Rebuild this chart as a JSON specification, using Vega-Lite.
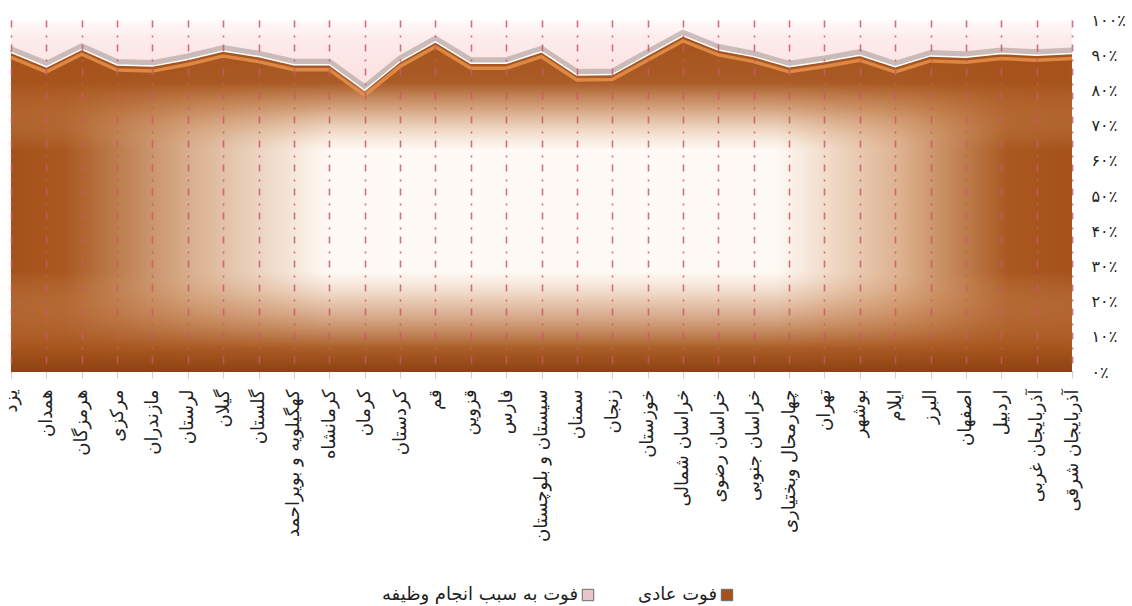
{
  "$schema": "https://vega.github.io/schema/vega-lite/v6.json",
  "width": 1061,
  "height": 352,
  "autosize": {"type": "none"},
  "padding": {"left": 11, "top": 20, "right": 60, "bottom": 234},
  "background": "white",
  "config": {
    "font": "DejaVu Sans",
    "view": {"stroke": null},
    "axisY": {
      "orient": "right",
      "grid": false,
      "domain": false,
      "ticks": false,
      "labelPadding": 19,
      "labelFontSize": 16,
      "labelColor": "#222222"
    }
  },
  "data": {
    "values": [
      {"استان": "یزد", "فوت عادی": 90.8, "فوت به سبب انجام وظیفه": 9.2},
      {"استان": "همدان", "فوت عادی": 86.7, "فوت به سبب انجام وظیفه": 13.3},
      {"استان": "هرمزگان", "فوت عادی": 91.7, "فوت به سبب انجام وظیفه": 8.3},
      {"استان": "مرکزی", "فوت عادی": 87.2, "فوت به سبب انجام وظیفه": 12.8},
      {"استان": "مازندران", "فوت عادی": 86.9, "فوت به سبب انجام وظیفه": 13.1},
      {"استان": "لرستان", "فوت عادی": 88.8, "فوت به سبب انجام وظیفه": 11.2},
      {"استان": "گیلان", "فوت عادی": 91.2, "فوت به سبب انجام وظیفه": 8.8},
      {"استان": "گلستان", "فوت عادی": 89.6, "فوت به سبب انجام وظیفه": 10.4},
      {"استان": "کهگیلویه و بویراحمد", "فوت عادی": 87.3, "فوت به سبب انجام وظیفه": 12.7},
      {"استان": "کرمانشاه", "فوت عادی": 87.3, "فوت به سبب انجام وظیفه": 12.7},
      {"استان": "کرمان", "فوت عادی": 80.0, "فوت به سبب انجام وظیفه": 20.0},
      {"استان": "کردستان", "فوت عادی": 88.2, "فوت به سبب انجام وظیفه": 11.8},
      {"استان": "قم", "فوت عادی": 93.8, "فوت به سبب انجام وظیفه": 6.2},
      {"استان": "قزوین", "فوت عادی": 87.7, "فوت به سبب انجام وظیفه": 12.3},
      {"استان": "فارس", "فوت عادی": 87.7, "فوت به سبب انجام وظیفه": 12.3},
      {"استان": "سیستان و بلوچستان", "فوت عادی": 91.0, "فوت به سبب انجام وظیفه": 9.0},
      {"استان": "سمنان", "فوت عادی": 84.4, "فوت به سبب انجام وظیفه": 15.6},
      {"استان": "زنجان", "فوت عادی": 84.5, "فوت به سبب انجام وظیفه": 15.5},
      {"استان": "خوزستان", "فوت عادی": 90.0, "فوت به سبب انجام وظیفه": 10.0},
      {"استان": "خراسان شمالی", "فوت عادی": 95.5, "فوت به سبب انجام وظیفه": 4.5},
      {"استان": "خراسان رضوی", "فوت عادی": 91.5, "فوت به سبب انجام وظیفه": 8.5},
      {"استان": "خراسان جنوبی", "فوت عادی": 89.6, "فوت به سبب انجام وظیفه": 10.4},
      {"استان": "چهارمحال وبختیاری", "فوت عادی": 86.7, "فوت به سبب انجام وظیفه": 13.3},
      {"استان": "تهران", "فوت عادی": 88.2, "فوت به سبب انجام وظیفه": 11.8},
      {"استان": "بوشهر", "فوت عادی": 90.0, "فوت به سبب انجام وظیفه": 10.0},
      {"استان": "ایلام", "فوت عادی": 86.7, "فوت به سبب انجام وظیفه": 13.3},
      {"استان": "البرز", "فوت عادی": 89.8, "فوت به سبب انجام وظیفه": 10.2},
      {"استان": "اصفهان", "فوت عادی": 89.4, "فوت به سبب انجام وظیفه": 10.6},
      {"استان": "اردبیل", "فوت عادی": 90.5, "فوت به سبب انجام وظیفه": 9.5},
      {"استان": "آذربایجان غربی", "فوت عادی": 90.0, "فوت به سبب انجام وظیفه": 10.0},
      {"استان": "آذربایجان شرقی", "فوت عادی": 90.5, "فوت به سبب انجام وظیفه": 9.5}
    ]
  },
  "encoding": {
    "x": {
      "field": "استان",
      "type": "nominal",
      "sort": null,
      "scale": {"padding": 0},
      "axis": {
        "title": null,
        "labelAngle": -90,
        "labelFontSize": 18,
        "labelColor": "#222222",
        "labelPadding": 11,
        "labelLimit": 300,
        "tickColor": "#cfcfcf",
        "tickSize": 6,
        "domain": false,
        "grid": true,
        "gridColor": "#cc5866",
        "gridDash": [7, 8, 2, 7],
        "gridWidth": 1.6,
        "gridOpacity": 0.85,
        "zindex": 1
      }
    }
  },
  "layer": [
    {
      "transform": [{"fold": ["فوت عادی", "فوت به سبب انجام وظیفه"], "as": ["type", "value"]}],
      "mark": {"type": "area"},
      "encoding": {
        "y": {
          "field": "value",
          "type": "quantitative",
          "stack": true,
          "scale": {"domain": [0, 100], "nice": false},
          "axis": {
            "title": null,
            "values": [0, 10, 20, 30, 40, 50, 60, 70, 80, 90, 100],
            "labelExpr": "datum.value == 100 ? '۱۰۰٪' : datum.value == 90 ? '۹۰٪' : datum.value == 80 ? '۸۰٪' : datum.value == 70 ? '۷۰٪' : datum.value == 60 ? '۶۰٪' : datum.value == 50 ? '۵۰٪' : datum.value == 40 ? '۴۰٪' : datum.value == 30 ? '۳۰٪' : datum.value == 20 ? '۲۰٪' : datum.value == 10 ? '۱۰٪' : '۰٪'"
          }
        },
        "color": {
          "field": "type",
          "type": "nominal",
          "scale": {"domain": ["فوت به سبب انجام وظیفه", "فوت عادی"], "range": ["#e6c6c6", "#a4521a"]},
          "legend": {
            "title": null,
            "orient": "none",
            "legendX": 568,
            "legendY": 566,
            "direction": "horizontal",
            "symbolType": "square",
            "symbolSize": 130,
            "symbolStrokeColor": "#6b6b6b",
            "symbolStrokeWidth": 1,
            "labelFontSize": 18,
            "labelLimit": 400,
            "labelColor": "#222222",
            "labelAlign": "right",
            "labelOffset": -19,
            "columnPadding": 42
          }
        },
        "order": {"field": "type", "sort": "descending"}
      }
    },
    {
      "mark": {
        "type": "area",
        "color": {
          "gradient": "linear",
          "x1": 0, "y1": 0, "x2": 1, "y2": 0,
          "stops": [
            {"offset": 0, "color": "#a4521a"},
            {"offset": 0.05, "color": "#a9581f"},
            {"offset": 0.17, "color": "#d9b08f"},
            {"offset": 0.3, "color": "#fffaf5"},
            {"offset": 0.72, "color": "#fffaf5"},
            {"offset": 0.84, "color": "#dcb08c"},
            {"offset": 0.94, "color": "#a9581f"},
            {"offset": 1, "color": "#a4521a"}
          ]
        }
      },
      "encoding": {"y": {"field": "فوت عادی", "type": "quantitative", "axis": {"title": null, "values": [0, 10, 20, 30, 40, 50, 60, 70, 80, 90, 100], "labelExpr": "datum.value == 100 ? '۱۰۰٪' : datum.value == 90 ? '۹۰٪' : datum.value == 80 ? '۸۰٪' : datum.value == 70 ? '۷۰٪' : datum.value == 60 ? '۶۰٪' : datum.value == 50 ? '۵۰٪' : datum.value == 40 ? '۴۰٪' : datum.value == 30 ? '۳۰٪' : datum.value == 20 ? '۲۰٪' : datum.value == 10 ? '۱۰٪' : '۰٪'"}}}
    },
    {
      "mark": {
        "type": "area",
        "color": {
          "gradient": "linear",
          "x1": 0, "y1": 0, "x2": 0, "y2": 1,
          "stops": [
            {"offset": 0, "color": "rgba(164,82,26,1)"},
            {"offset": 0.14, "color": "rgba(166,84,28,0.95)"},
            {"offset": 0.22, "color": "rgba(185,110,55,0.6)"},
            {"offset": 0.34, "color": "rgba(215,160,115,0)"},
            {"offset": 0.7, "color": "rgba(215,160,115,0)"},
            {"offset": 0.8, "color": "rgba(195,125,75,0.45)"},
            {"offset": 0.93, "color": "rgba(166,84,28,0.95)"},
            {"offset": 1, "color": "rgba(140,66,18,1)"}
          ]
        }
      },
      "encoding": {"y": {"field": "فوت عادی", "type": "quantitative", "axis": {"title": null, "values": [0, 10, 20, 30, 40, 50, 60, 70, 80, 90, 100], "labelExpr": "datum.value == 100 ? '۱۰۰٪' : datum.value == 90 ? '۹۰٪' : datum.value == 80 ? '۸۰٪' : datum.value == 70 ? '۷۰٪' : datum.value == 60 ? '۶۰٪' : datum.value == 50 ? '۵۰٪' : datum.value == 40 ? '۴۰٪' : datum.value == 30 ? '۳۰٪' : datum.value == 20 ? '۲۰٪' : datum.value == 10 ? '۱۰٪' : '۰٪'"}}}
    },
    {
      "mark": {
        "type": "area",
        "color": {
          "gradient": "linear",
          "x1": 0, "y1": 0, "x2": 0, "y2": 1,
          "stops": [
            {"offset": 0, "color": "#fffafa"},
            {"offset": 0.3, "color": "#fdeaea"},
            {"offset": 1, "color": "#f9e0df"}
          ]
        }
      },
      "encoding": {
        "y": {"field": "فوت عادی", "type": "quantitative", "axis": {"title": null, "values": [0, 10, 20, 30, 40, 50, 60, 70, 80, 90, 100], "labelExpr": "datum.value == 100 ? '۱۰۰٪' : datum.value == 90 ? '۹۰٪' : datum.value == 80 ? '۸۰٪' : datum.value == 70 ? '۷۰٪' : datum.value == 60 ? '۶۰٪' : datum.value == 50 ? '۵۰٪' : datum.value == 40 ? '۴۰٪' : datum.value == 30 ? '۳۰٪' : datum.value == 20 ? '۲۰٪' : datum.value == 10 ? '۱۰٪' : '۰٪'"}},
        "y2": {"datum": 100}
      }
    },
    {
      "mark": {"type": "line", "stroke": "#8e8580", "strokeWidth": 6, "opacity": 0.45, "yOffset": -3},
      "encoding": {"y": {"field": "فوت عادی", "type": "quantitative", "axis": {"title": null, "values": [0, 10, 20, 30, 40, 50, 60, 70, 80, 90, 100], "labelExpr": "datum.value == 100 ? '۱۰۰٪' : datum.value == 90 ? '۹۰٪' : datum.value == 80 ? '۸۰٪' : datum.value == 70 ? '۷۰٪' : datum.value == 60 ? '۶۰٪' : datum.value == 50 ? '۵۰٪' : datum.value == 40 ? '۴۰٪' : datum.value == 30 ? '۳۰٪' : datum.value == 20 ? '۲۰٪' : datum.value == 10 ? '۱۰٪' : '۰٪'"}}}
    },
    {
      "mark": {"type": "line", "stroke": "#e8914a", "strokeWidth": 3.5, "opacity": 0.85, "yOffset": 5},
      "encoding": {"y": {"field": "فوت عادی", "type": "quantitative", "axis": {"title": null, "values": [0, 10, 20, 30, 40, 50, 60, 70, 80, 90, 100], "labelExpr": "datum.value == 100 ? '۱۰۰٪' : datum.value == 90 ? '۹۰٪' : datum.value == 80 ? '۸۰٪' : datum.value == 70 ? '۷۰٪' : datum.value == 60 ? '۶۰٪' : datum.value == 50 ? '۵۰٪' : datum.value == 40 ? '۴۰٪' : datum.value == 30 ? '۳۰٪' : datum.value == 20 ? '۲۰٪' : datum.value == 10 ? '۱۰٪' : '۰٪'"}}}
    },
    {
      "mark": {"type": "line", "stroke": "#ffffff", "strokeWidth": 1.5},
      "encoding": {"y": {"field": "فوت عادی", "type": "quantitative", "axis": {"title": null, "values": [0, 10, 20, 30, 40, 50, 60, 70, 80, 90, 100], "labelExpr": "datum.value == 100 ? '۱۰۰٪' : datum.value == 90 ? '۹۰٪' : datum.value == 80 ? '۸۰٪' : datum.value == 70 ? '۷۰٪' : datum.value == 60 ? '۶۰٪' : datum.value == 50 ? '۵۰٪' : datum.value == 40 ? '۴۰٪' : datum.value == 30 ? '۳۰٪' : datum.value == 20 ? '۲۰٪' : datum.value == 10 ? '۱۰٪' : '۰٪'"}}}
    }
  ]
}
